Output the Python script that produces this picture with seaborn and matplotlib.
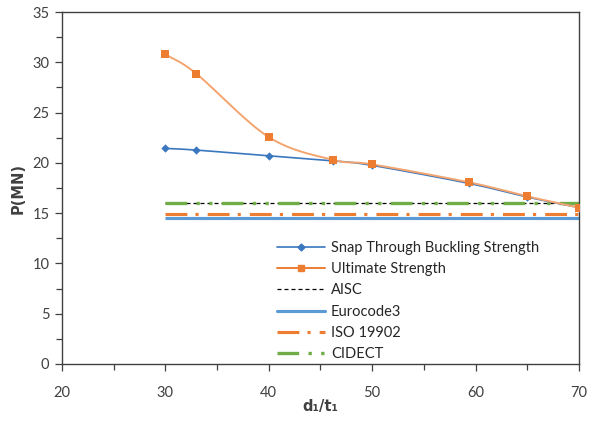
import numpy as np
import pandas as pd
import matplotlib
matplotlib.use("Agg")
import matplotlib.pyplot as plt
from matplotlib.lines import Line2D
from matplotlib.ticker import MultipleLocator
import seaborn as sns

# ---- data ----
ratio = [30, 33, 40, 46.2, 50, 59.4, 65, 70]
snap_buckling = [21.44, 21.27, 20.7, 20.2, 19.75, 17.95, 16.6, 15.55]
ultimate = [30.8, 28.86, 22.56, 20.3, 19.85, 18.06, 16.67, 15.55]
code_x = [30, 70]
aisc = [16.0, 16.0]
eurocode3 = [14.48, 14.48]
iso19902 = [14.94, 14.94]
cidect = [16.04, 16.04]
series_names = ["Snap Through Buckling Strength", "Ultimate Strength", "AISC",
                "Eurocode3", "ISO 19902", "CIDECT"]

sns.set_theme(style="white")
plt.rcParams["font.family"] = ["Lato", "DejaVu Sans"]


def smooth(x, y, n=30):
    """Catmull-Rom rendering of the polyline (Excel 'smoothed line' look)."""
    p = np.column_stack([x, y]).astype(float)
    p = np.vstack([2 * p[0] - p[1], p, 2 * p[-1] - p[-2]])
    out = []
    for i in range(1, len(p) - 2):
        p0, p1, p2, p3 = p[i - 1], p[i], p[i + 1], p[i + 2]
        t = np.linspace(0, 1, n, endpoint=False)[:, None]
        seg = 0.5 * ((2 * p1) + (-p0 + p2) * t + (2 * p0 - 5 * p1 + 4 * p2 - p3) * t ** 2
                     + (-p0 + 3 * p1 - 3 * p2 + p3) * t ** 3)
        out.append(seg)
    out.append(p[-2][None, :])
    s = np.vstack(out)
    return s[:, 0], s[:, 1]


fig = plt.figure(figsize=(5.92, 4.23), dpi=100)
ax = fig.add_axes([0.1047, 0.1395, 0.8733, 0.8321])

c_snap = "#3A77BE"
c_ult = "#ED7D31"
c_euro = "#5B9BD5"
c_green = "#70AD47"

iso_ls = (0, (7, 2.6, 1, 2.9))
cid_ls = (0, (6.5, 2.8, 1, 2.8, 1, 2.8))
aisc_ls = (0, (3.2, 2.4))

# code lines
ax.plot(code_x, eurocode3, color=c_euro, lw=2.25, solid_capstyle="butt")
ax.plot(code_x, iso19902, color=c_ult, lw=2.25, linestyle=iso_ls)
ax.plot(code_x, aisc, color="black", lw=0.9, linestyle=aisc_ls)
ax.plot(code_x, cidect, color=c_green, lw=2.4, linestyle=cid_ls)

# main series
sx, sy = smooth(ratio, snap_buckling)
sns.lineplot(x=sx, y=sy, ax=ax, color=c_snap, lw=1.2, sort=False, estimator=None)
sns.scatterplot(x=ratio, y=snap_buckling, ax=ax, color=c_snap, marker="D", s=18,
                linewidth=0, zorder=4)
ux, uy = smooth(ratio, ultimate)
sns.lineplot(x=ux, y=uy, ax=ax, color="#F4A46E", lw=1.4, sort=False, estimator=None)
sns.scatterplot(x=ratio, y=ultimate, ax=ax, color=c_ult, marker="s", s=40,
                linewidth=0, zorder=5)

ax.set_xlim(20, 70)
ax.set_ylim(0, 35)
ax.xaxis.set_major_locator(MultipleLocator(10))
ax.xaxis.set_minor_locator(MultipleLocator(5))
ax.yaxis.set_major_locator(MultipleLocator(5))
ax.yaxis.set_minor_locator(MultipleLocator(2.5))
ax.tick_params(which="both", direction="out", bottom=True, left=True, color="#404040")
ax.tick_params(which="major", length=5, width=0.9, labelsize=10.5, labelcolor="#404040", pad=4)
ax.tick_params(which="minor", length=4, width=0.9)
ax.tick_params(axis="x", pad=11)
for sp in ax.spines.values():
    sp.set_color("#404040")
    sp.set_linewidth(1.0)

ax.set_xlabel("d\u2081/t\u2081", fontsize=10.5, fontweight="bold", color="#404040",
              family=["DejaVu Sans"], labelpad=-1)
ax.set_ylabel("P(MN)", fontsize=10.5, fontweight="bold", color="#404040", labelpad=4.5,
              family=["DejaVu Sans"])

handles = [
    Line2D([], [], color=c_snap, lw=1.2, marker="D", markersize=3.5),
    Line2D([], [], color=c_ult, lw=1.4, marker="s", markersize=5),
    Line2D([], [], color="black", lw=0.9, linestyle=aisc_ls),
    Line2D([], [], color=c_euro, lw=2.25),
    Line2D([], [], color=c_ult, lw=2.25, linestyle=iso_ls),
    Line2D([], [], color=c_green, lw=2.4, linestyle=cid_ls),
]
leg = ax.legend(handles, series_names, loc="upper left", bbox_to_anchor=(0.416, 0.35),
                frameon=False, fontsize=10.5, handlelength=3.3, handletextpad=0.4,
                labelspacing=0.5, borderpad=0, borderaxespad=0)
for t in leg.get_texts():
    t.set_color("#262626")

fig.savefig("out.png", dpi=100)
